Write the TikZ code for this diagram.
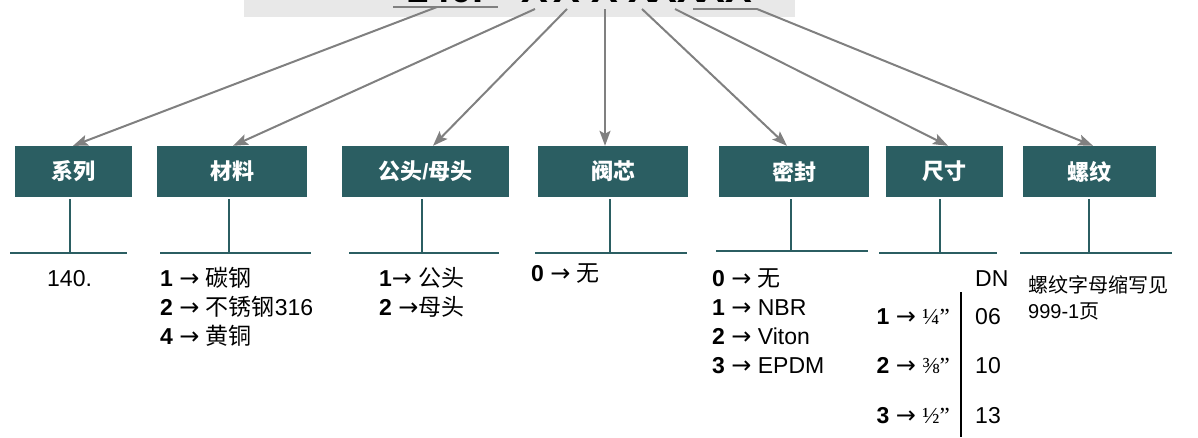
\documentclass[tikz,border=0pt]{standalone}
\usepackage{fontspec}
\setmainfont{Liberation Sans}
\newfontfamily\cjk{Noto Sans CJK SC}
\newfontfamily\symf{DejaVu Sans}
\newfontfamily\tms{Liberation Serif}
\usetikzlibrary{arrows.meta}
\definecolor{teal1}{HTML}{2B5E62}
\definecolor{arrgray}{HTML}{808080}
\definecolor{titlegray}{HTML}{E8E8E8}
\newcommand\rarr{{\symf\fontsize{24}{24}\selectfont →}}
\tikzset{
  catbox/.style={fill=teal1, text=white, minimum height=51pt, inner sep=0pt,
    font=\cjk\bfseries\fontsize{22}{22}\selectfont},
  stem/.style={draw=teal1, line width=2pt},
  feed/.style={draw=arrgray, line width=2pt, -{Stealth[length=15pt,width=11pt,inset=3pt]}},
  guide/.style={draw=arrgray, line width=2pt},
  lst/.style={anchor=base west, inner sep=0pt, font=\fontsize{23}{23}\selectfont},
  lstr/.style={anchor=base east, inner sep=0pt, font=\fontsize{23}{23}\selectfont},
  note/.style={anchor=base west, inner sep=0pt, font=\fontsize{20}{20}\selectfont},
  ttl/.style={anchor=base, inner sep=0pt, font=\bfseries\fontsize{40}{40}\selectfont}
}
\begin{document}
\begin{tikzpicture}[x=1pt,y=-1pt]
\useasboundingbox (0,0) rectangle (1198,437);
% title bar (clipped at top)
\fill[titlegray] (244,0) rectangle (795,17);
\begin{scope}
\clip (244,0) rectangle (795,17);
\node[ttl] (t0) at (445,2.5) {140.};
\node[ttl] (t1) at (535,2.5) {X};
\node[ttl] (t2) at (567,2.5) {X};
\node[ttl] (t3) at (605,2.5) {X};
\node[ttl] (t4) at (642,2.5) {X};
\node[ttl] (t5) at (677,2.5) {XX};
\node[ttl] (t6) at (725,2.5) {XX};
\end{scope}
% origins on title
\coordinate (u1a) at (393,7);
\coordinate (u1b) at (498,7);
\coordinate (o1) at (437,7);
\coordinate (o2) at (535,9);
\coordinate (o3) at (567,9);
\coordinate (o4) at (605,9);
\coordinate (o5) at (642,9);
\coordinate (o6) at (675,9);
\coordinate (u7a) at (693,9);
\coordinate (o7) at (757,9);
% boxes
\node[catbox, minimum width=117pt] (b1) at (73.5,171.5) {系列};
\node[catbox, minimum width=150pt] (b2) at (232,171.5) {材料};
\node[catbox, minimum width=167pt] (b3) at (425.5,171.5) {公头{\rmfamily\bfseries /}母头};
\node[catbox, minimum width=150pt] (b4) at (613,171.5) {阀芯};
\node[catbox, minimum width=150pt] (b5) at (794,171.5) {密封};
\node[catbox, minimum width=117pt] (b6) at (944.5,171.5) {尺寸};
\node[catbox, minimum width=133pt] (b7) at (1089.5,171.5) {螺纹};
% guide lines and arrows
\draw[guide] (u1a) -- (u1b);
\draw[guide] (u7a) -- (o7);
\draw[feed] (o1) -- (b1.north -| 73,0);
\draw[feed] (o2) -- (b2.north -| 233,0);
\draw[feed] (o3) -- (b3.north -| 433,0);
\draw[feed] (o4) -- (b4.north -| 605,0);
\draw[feed] (o5) -- (b5.north -| 787,0);
\draw[feed] (o6) -- (b6.north -| 948,0);
\draw[feed] (o7) -- (b7.north -| 1093,0);
% stems and bars
\coordinate (s1) at (70,253);   \coordinate (h1a) at (10,253);   \coordinate (h1b) at (127,253);
\coordinate (s2) at (229,253);  \coordinate (h2a) at (160,253);  \coordinate (h2b) at (311,253);
\coordinate (s3) at (422,253);  \coordinate (h3a) at (349,253);  \coordinate (h3b) at (499,253);
\coordinate (s4) at (610,253);  \coordinate (h4a) at (535,253);  \coordinate (h4b) at (687,253);
\coordinate (s5) at (791,251);  \coordinate (h5a) at (716,251);  \coordinate (h5b) at (868,251);
\coordinate (s6) at (940,253);  \coordinate (h6a) at (879,253);  \coordinate (h6b) at (997,253);
\coordinate (s7) at (1089,253); \coordinate (h7a) at (1020,253); \coordinate (h7b) at (1172,253);
\foreach \i in {1,...,7}{
  \draw[stem] ([yshift=-2pt]b\i.south -| s\i) -- (s\i);
  \draw[stem] (h\i a) -- (h\i b);
}
% lists
\node[lst] (l1) at (47,286) {140.};
\node[lst] (l2a) at (160,286) {\textbf{1} \rarr{} \cjk 碳钢};
\node[lst] (l2b) at (160,315) {\textbf{2} \rarr{} {\cjk 不锈钢}316};
\node[lst] (l2c) at (160,344) {\textbf{4} \rarr{} \cjk 黄铜};
\node[lst] (l3a) at (379,286) {\textbf{1}\rarr{} \cjk 公头};
\node[lst] (l3b) at (379,315) {\textbf{2} \rarr{\cjk 母头}};
\node[lst] (l4a) at (531,281) {\textbf{0} \rarr{} \cjk 无};
\node[lst] (l5a) at (712,286) {\textbf{0} \rarr{} \cjk 无};
\node[lst] (l5b) at (712,315) {\textbf{1} \rarr{} NBR};
\node[lst] (l5c) at (712,344) {\textbf{2} \rarr{} Viton};
\node[lst] (l5d) at (712,373) {\textbf{3} \rarr{} EPDM};
% size table
\node[lst] (dn) at (975,286) {DN};
\coordinate (vt) at (961,292);
\coordinate (vb) at (961,437);
\draw[line width=2pt] (vt) -- (vb);
\node[lstr] (f1) at (950,324) {\textbf{1} \rarr{} {\tms\fontsize{23}{23}\selectfont ¼”}};
\node[lstr] (f2) at (950,373) {\textbf{2} \rarr{} {\tms\fontsize{23}{23}\selectfont ⅜”}};
\node[lstr] (f3) at (950,423) {\textbf{3} \rarr{} {\tms\fontsize{23}{23}\selectfont ½”}};
\node[lst] (d1) at (975,324) {06};
\node[lst] (d2) at (975,373) {10};
\node[lst] (d3) at (975,423) {13};
% thread note
\node[note] (n1) at (1028,292) {\cjk 螺纹字母缩写见};
\node[note] (n2) at (1028,318) {999-1{\cjk 页}};
\end{tikzpicture}
\end{document}
